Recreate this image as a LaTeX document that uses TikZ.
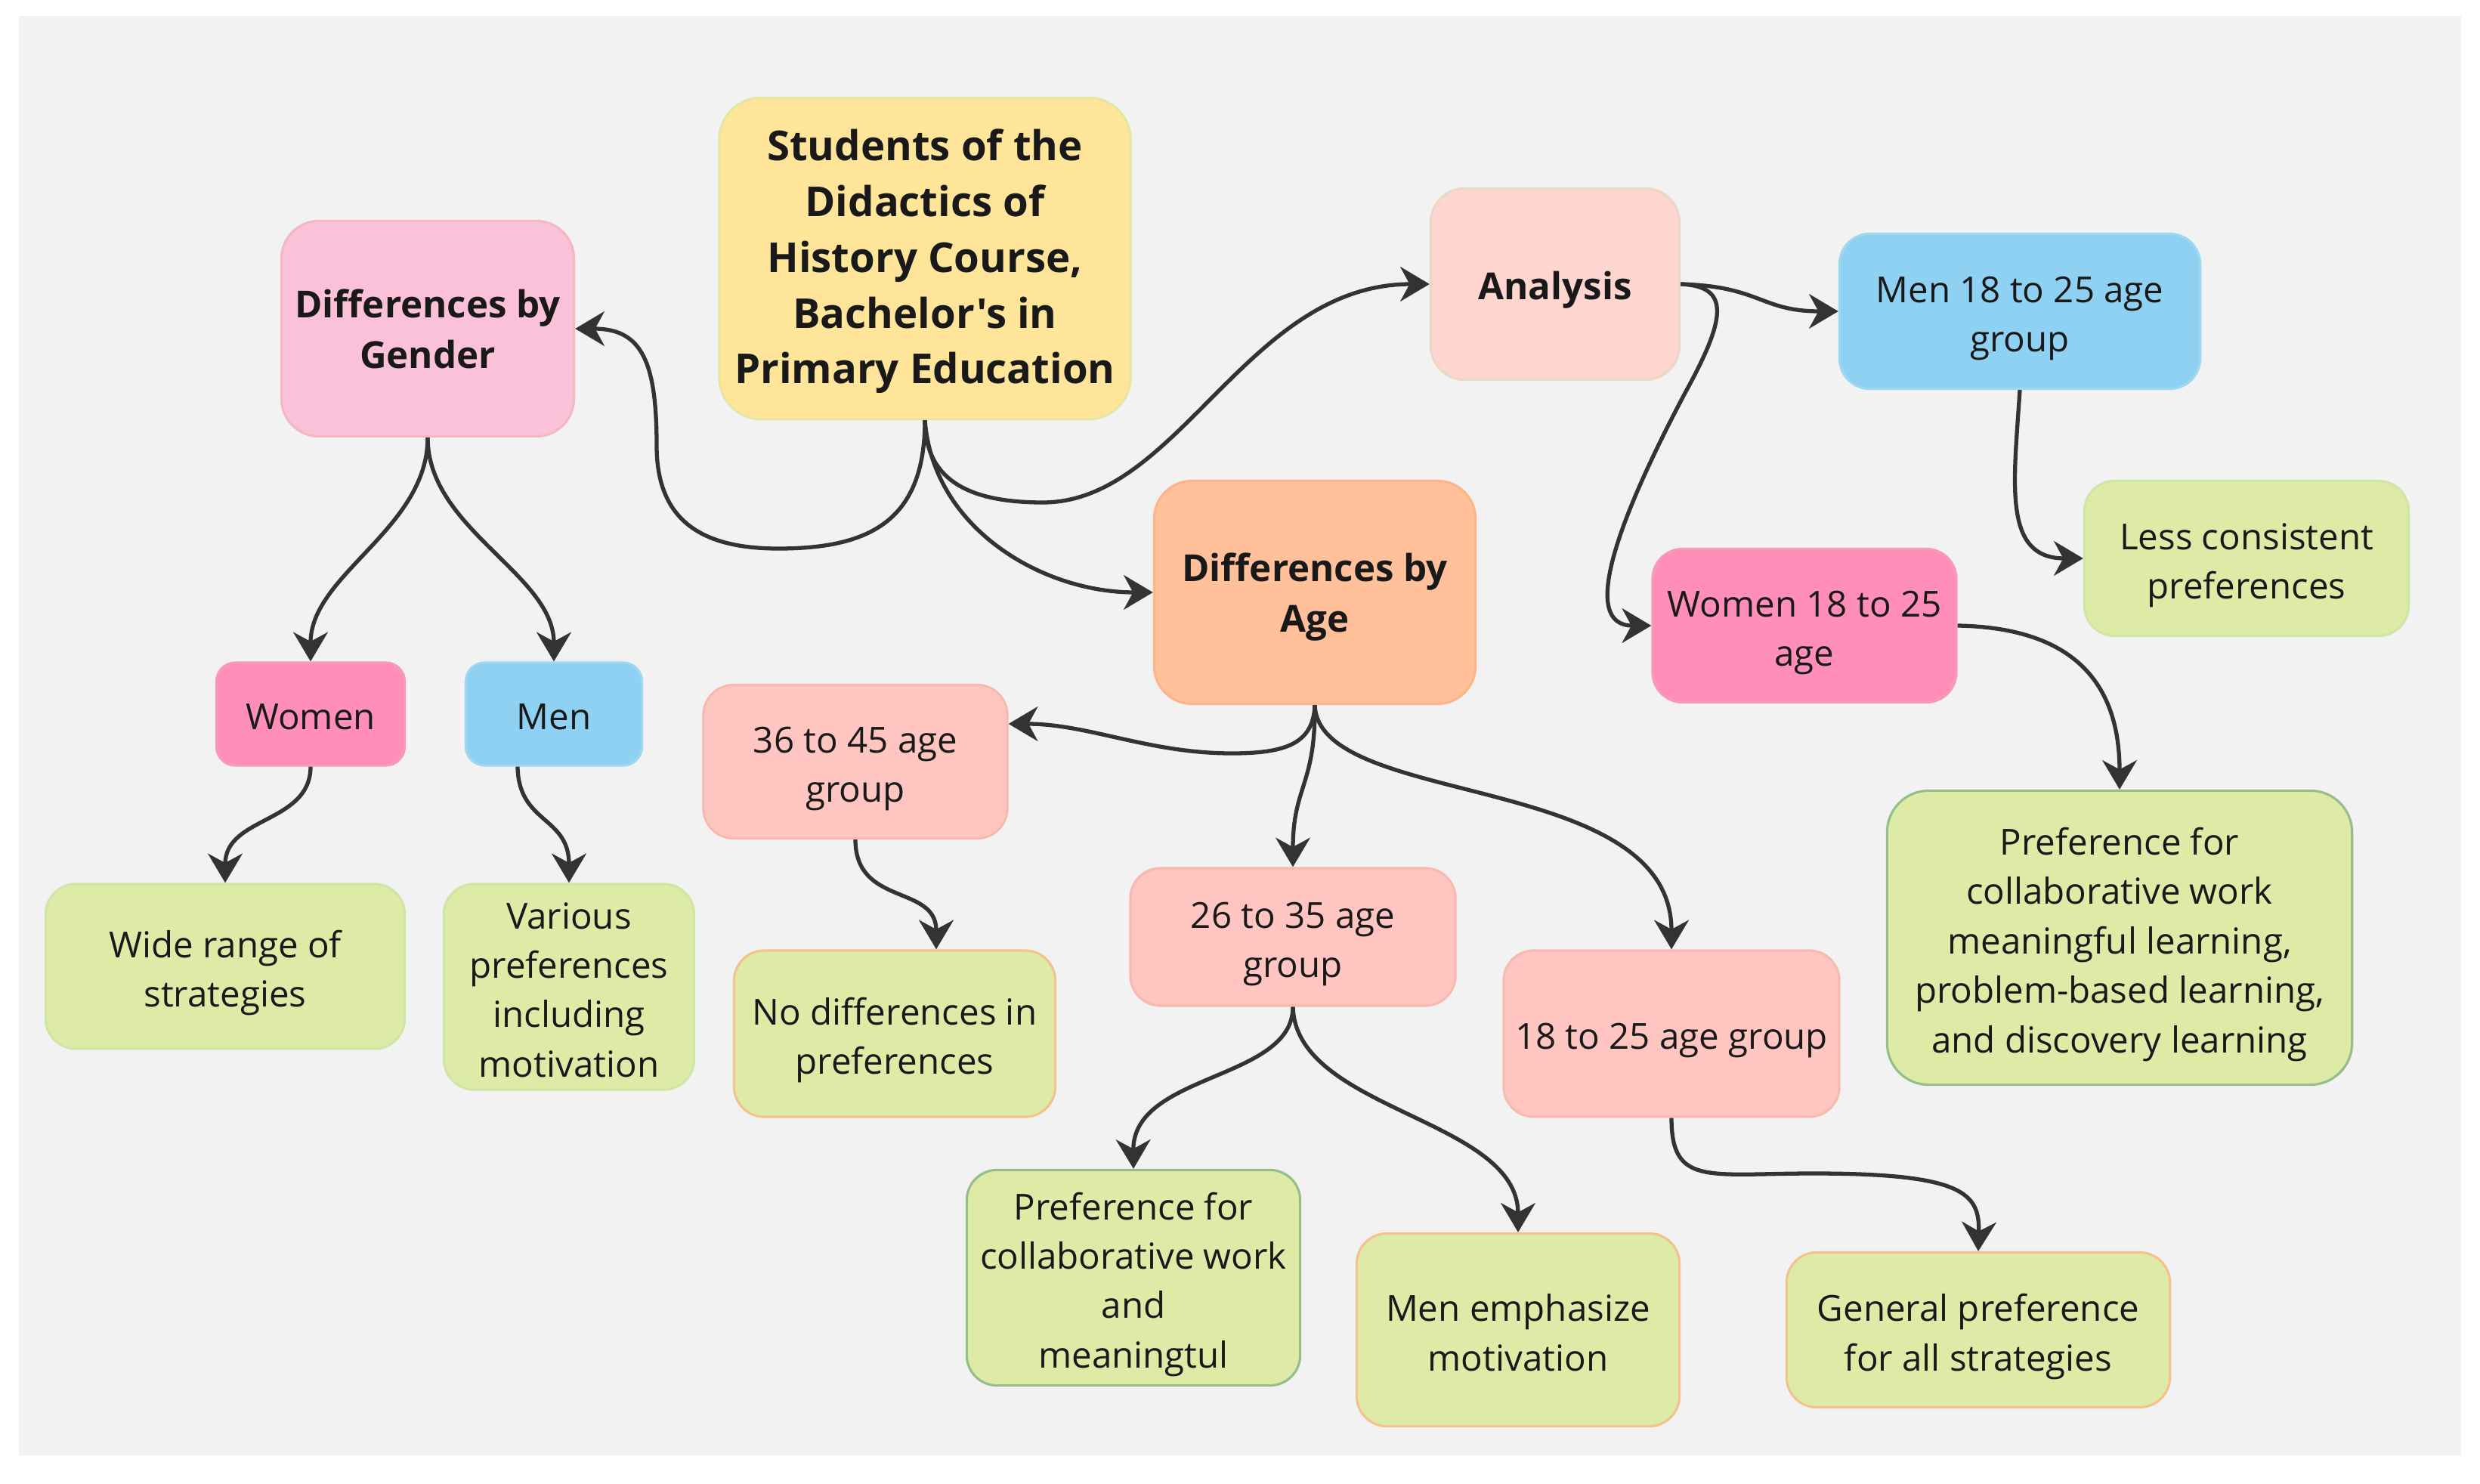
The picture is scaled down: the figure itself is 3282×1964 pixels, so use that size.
\documentclass[tikz,border=0pt]{standalone}
\usepackage{fontspec}
\setmainfont{Open Sans}[Ligatures=TeXOff]
\usetikzlibrary{arrows.meta,calc}
\definecolor{cBg}{HTML}{F2F2F2}
\definecolor{cLine}{HTML}{333333}
\definecolor{cYel}{HTML}{FEE599}
\definecolor{cYelB}{HTML}{E6E6A2}
\definecolor{cPinkL}{HTML}{FBC1D9}
\definecolor{cPinkLB}{HTML}{F2B9C0}
\definecolor{cSalm}{HTML}{FFD5CF}
\definecolor{cSalmB}{HTML}{EAD8C6}
\definecolor{cBlue}{HTML}{8FD1F2}
\definecolor{cBlueB}{HTML}{9ED7F0}
\definecolor{cGreen}{HTML}{DEEBA7}
\definecolor{cGreenB}{HTML}{CFE6A6}
\definecolor{cGreenD}{HTML}{95BE8A}
\definecolor{cOrange}{HTML}{FFC09A}
\definecolor{cOrangeB}{HTML}{FFB489}
\definecolor{cPink}{HTML}{FF8FB8}
\definecolor{cPinkB}{HTML}{F59AB8}
\definecolor{cAge}{HTML}{FFC5C0}
\definecolor{cAgeB}{HTML}{F8B9B0}
\definecolor{cOrB}{HTML}{F5C28E}
\newcommand{\fRoot}{\fontsize{15.5}{21}\selectfont\bfseries}
\newcommand{\fHead}{\fontsize{14}{19}\selectfont\bfseries}
\newcommand{\fBody}{\fontsize{13.5}{18.6}\selectfont}
\newcommand{\sT}{\rule{0pt}{16.5pt}}
\newcommand{\sH}{\rule{0pt}{15pt}}
\newcommand{\sR}{\rule{0pt}{15.5pt}}
\begin{document}
\begin{tikzpicture}[x=0.01cm,y=-0.01cm,
  box/.style={rectangle, rounded corners=0.4cm, align=center, inner sep=0pt, line width=0.9pt, text=black!90, font=\fBody,
    execute at begin node={\rule{0pt}{16pt}}, execute at end node={\rule[-4.4pt]{0pt}{4.4pt}}},
  hbox/.style={box, rounded corners=0.5cm, font=\fHead,
    execute at begin node={\rule{0pt}{15pt}}, execute at end node={\rule[-4.4pt]{0pt}{4.4pt}}},
  sbox/.style={box, rounded corners=0.25cm},
  arr/.style={draw=cLine, line width=1.5pt, -{Stealth[length=11pt,width=13pt,inset=3.5pt]}}]
\useasboundingbox (0,0) rectangle (3282,1964);
\fill[white] (0,0) rectangle (3282,1964);
\fill[cBg] (25,21) rectangle (3257,1926);

\node[box, fill=cYel, draw=cYelB, minimum width=5.44cm, minimum height=4.25cm, rounded corners=0.55cm, font=\fRoot,
  execute at begin node={\rule{0pt}{15.5pt}}, execute at end node={\rule[-5.1pt]{0pt}{5.1pt}}] (root) at (1224,342) {\sR Students of the\\Didactics of\\History Course,\\Bachelor's in\\Primary Education};
\node[hbox, fill=cPinkL, draw=cPinkLB, minimum width=3.87cm, minimum height=2.85cm] (gender) at (566,435) {\sH Differences by\\Gender};
\node[hbox, fill=cSalm, draw=cSalmB, minimum width=3.29cm, minimum height=2.53cm, rounded corners=0.45cm] (analysis) at (2058,376) {Analysis};
\node[box, fill=cBlue, draw=cBlueB, minimum width=4.77cm, minimum height=2.05cm] (men1825) at (2673,412) {\sT Men 18 to 25 age\\group};
\node[box, fill=cGreen, draw=cGreenB, minimum width=4.29cm, minimum height=2.05cm] (less) at (2973,739) {\sT Less consistent\\preferences};
\node[hbox, fill=cOrange, draw=cOrangeB, minimum width=4.25cm, minimum height=2.95cm] (age) at (1740,784) {\sH Differences by\\Age};
\node[box, fill=cPink, draw=cPinkB, minimum width=4.02cm, minimum height=2.03cm] (women1825) at (2388,828) {\sT Women 18 to 25\\age};
\node[box, fill=cGreen, draw=cGreenD, minimum width=6.15cm, minimum height=3.89cm, rounded corners=0.55cm] (prefbig) at (2805,1241) {\sT Preference for\\collaborative work\\meaningful learning,\\problem-based learning,\\and discovery learning};
\node[sbox, fill=cPink, draw=cPinkB, minimum width=2.49cm, minimum height=1.36cm] (womenG) at (411,945) {Women};
\node[sbox, fill=cBlue, draw=cBlueB, minimum width=2.33cm, minimum height=1.36cm] (menG) at (733,945) {Men};
\node[box, fill=cGreen, draw=cGreenB, minimum width=4.75cm, minimum height=2.18cm] (wide) at (298,1279) {\sT Wide range of\\strategies};
\node[box, fill=cGreen, draw=cGreenB, minimum width=3.31cm, minimum height=2.72cm] (various) at (753,1306) {\sT Various\\preferences\\including\\motivation};
\node[box, fill=cAge, draw=cAgeB, minimum width=4.02cm, minimum height=2.03cm] (g3645) at (1132,1008) {\sT 36 to 45 age\\group};
\node[box, fill=cGreen, draw=cOrB, minimum width=4.25cm, minimum height=2.20cm] (nodiff) at (1184,1368) {\sT No differences in\\preferences};
\node[box, fill=cAge, draw=cAgeB, minimum width=4.30cm, minimum height=1.82cm] (g2635) at (1711,1240) {\sT 26 to 35 age\\group};
\node[box, fill=cAge, draw=cAgeB, minimum width=4.44cm, minimum height=2.20cm] (g1825) at (2212,1368) {18 to 25 age group};
\node[box, fill=cGreen, draw=cGreenD, minimum width=4.41cm, minimum height=2.85cm] (prefsmall) at (1500,1691) {\sT Preference for\\collaborative work\\and\\meaningtul};
\node[box, fill=cGreen, draw=cOrB, minimum width=4.27cm, minimum height=2.55cm] (menemph) at (2009,1760) {\sT Men emphasize\\motivation};
\node[box, fill=cGreen, draw=cOrB, minimum width=5.07cm, minimum height=2.05cm] (general) at (2618,1760) {\sT General preference\\for all strategies};

% root connectors
\draw[arr] (root.south) .. controls (1224,690) and (1150,726) .. (1030,726) .. controls (930,726) and (869,690) .. (869,590) .. controls (869,480) and (850,435) .. (gender.east);
\draw[arr] (root.south) .. controls (1224,640) and (1290,665) .. (1380,665) .. controls (1560,665) and (1650,376) .. (analysis.west);
\draw[arr] (root.south) .. controls (1235,700) and (1380,784) .. (age.west);
% analysis connectors
\draw[arr] (analysis.east) .. controls (2330,379) and (2330,412) .. (men1825.west);
\draw[arr] (analysis.east) .. controls (2290,379) and (2285,420) .. (2230,520) .. controls (2140,690) and (2090,828) .. (women1825.west);
\draw[arr] (men1825.south) .. controls (2665,640) and (2650,739) .. (less.west);
\draw[arr] (women1825.east) .. controls (2760,831) and (2805,920) .. (prefbig.north);
% gender
\draw[arr] (gender.south) .. controls (566,700) and (411,760) .. (womenG.north);
\draw[arr] (gender.south) .. controls (566,700) and (733,760) .. (menG.north);
\draw[arr] (womenG.south) .. controls (411,1090) and (298,1080) .. (wide.north);
\draw[arr] ($(menG.south)+(-48,0)$) .. controls (686,1090) and (753,1080) .. (various.north);
% age
\draw[arr] (age.south) .. controls (1738,985) and (1700,997) .. (1630,997) .. controls (1520,997) and (1440,958) .. ($(g3645.east)+(0,-50)$);
\draw[arr] (age.south) .. controls (1741,1040) and (1711,1040) .. (g2635.north);
\draw[arr] (age.south) .. controls (1745,1070) and (2212,1020) .. (g1825.north);
\draw[arr] (g3645.south) .. controls (1132,1200) and (1239,1170) .. ($(nodiff.north)+(55,0)$);
\draw[arr] (g2635.south) .. controls (1711,1430) and (1499,1420) .. (prefsmall.north);
\draw[arr] (g2635.south) .. controls (1715,1470) and (2009,1480) .. (menemph.north);
\draw[arr] (g1825.south) .. controls (2212,1570) and (2260,1553) .. (2400,1553) .. controls (2600,1553) and (2620,1580) .. (general.north);
\end{tikzpicture}
\end{document}
